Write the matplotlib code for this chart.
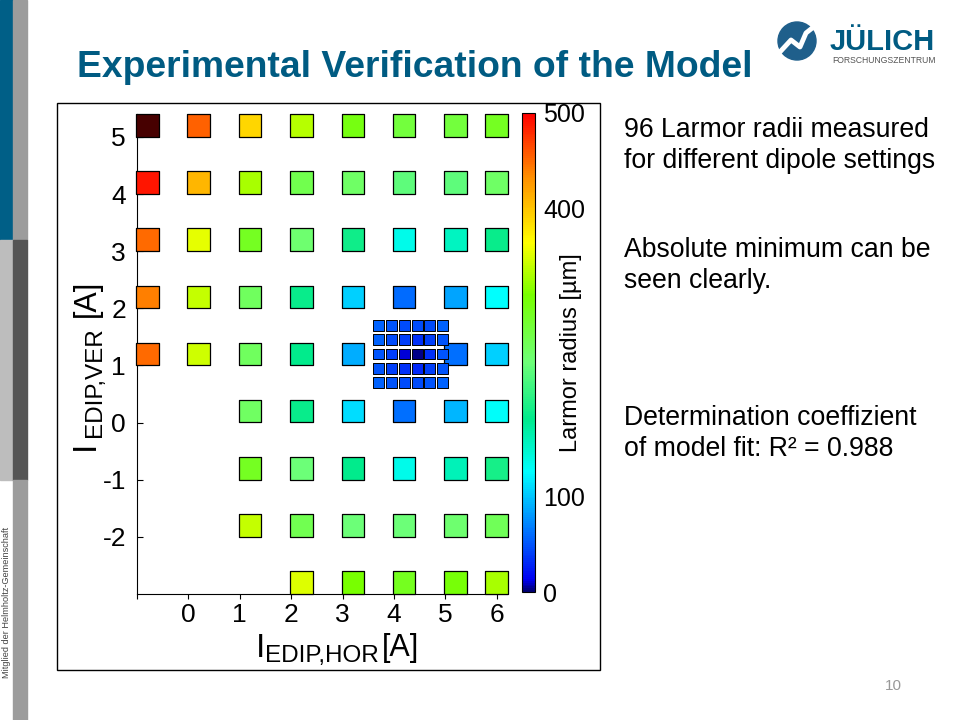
import numpy as np
import matplotlib
matplotlib.use('Agg')
import matplotlib.pyplot as plt
from matplotlib.colors import LinearSegmentedColormap, Normalize
from matplotlib.patches import Rectangle, Circle

plt.rcParams['font.family'] = ['Liberation Sans', 'DejaVu Sans']
plt.rcParams['axes.unicode_minus'] = False

# coarse scan: columns (I_EDIP,HOR) and rows (I_EDIP,VER), radius in um
x_cols = [-0.8, 0.2, 1.2, 2.2, 3.2, 4.2, 5.2, 6.0]
y_rows = [5.2, 4.2, 3.2, 2.2, 1.2, 0.2, -0.8, -1.8, -2.8]
nan = np.nan
radius_grid = [
    [560, 455, 390, 335, 300, 275, 275, 290],
    [490, 410, 330, 265, 250, 232, 232, 250],
    [450, 355, 290, 245, 188, 135, 155, 185],
    [440, 340, 255, 185, 105, 60, 85, 125],
    [450, 345, 255, 180, 88, nan, 62, 105],
    [nan, nan, 252, 185, 110, 62, 92, 128],
    [nan, nan, 290, 240, 180, 135, 160, 192],
    [nan, nan, 340, 262, 240, 240, 245, 258],
    [nan, nan, nan, 350, 310, 292, 305, 330],
]

# fine scan around the minimum
fine_x = [3.7, 3.95, 4.2, 4.45, 4.7, 4.95]
fine_y = [1.7, 1.45, 1.2, 0.95, 0.7]
fine_radius = [
    [55, 50, 45, 45, 45, 55],
    [55, 45, 40, 35, 40, 50],
    [50, 40, 10, 2, 35, 50],
    [50, 40, 35, 30, 40, 50],
    [55, 50, 45, 45, 50, 55],
]

cbar_ticks = [0, 100, 400, 500]

cmap = LinearSegmentedColormap.from_list('larmor', [
    (0.00, (0.0, 0.0, 0.45)),
    (0.025, (0.0, 0.0, 0.95)),
    (0.12, (0.0, 0.43, 1.0)),
    (0.25, (0.0, 1.0, 1.0)),
    (0.36, (0.0, 0.92, 0.55)),
    (0.48, (0.43, 1.0, 0.47)),
    (0.62, (0.47, 1.0, 0.0)),
    (0.73, (1.0, 1.0, 0.0)),
    (0.87, (1.0, 0.55, 0.0)),
    (1.00, (1.0, 0.0, 0.0)),
])
cmap.set_over((0.28, 0.0, 0.0))
norm = Normalize(0, 500)

fig = plt.figure(figsize=(9.6, 7.2), dpi=100)

# slide background in pixel coordinates
bg = fig.add_axes([0, 0, 1, 1], zorder=0)
bg.set_xlim(0, 960)
bg.set_ylim(720, 0)
bg.axis('off')

bg.add_patch(Rectangle((0, 0), 13, 240, color='#005f87'))
bg.add_patch(Rectangle((0, 240), 13, 240, color='#bdbdbd'))
bg.add_patch(Rectangle((13, 0), 14, 240, color='#9c9c9c'))
bg.add_patch(Rectangle((13, 240), 14, 240, color='#555555'))
bg.add_patch(Rectangle((13, 480), 14, 240, color='#9c9c9c'))
bg.text(7, 602, 'Mitglied der Helmholtz-Gemeinschaft', rotation=90, fontsize=6.6,
        color='#444444', ha='center', va='center')

bg.text(77, 77, 'Experimental Verification of the Model', fontsize=26.8,
        fontweight='bold', color='#005b82', va='baseline')

# logo
bg.add_patch(Circle((797, 41), 19, color='#1f5f8b'))
bg.plot([779, 791, 800, 806, 816], [53, 40, 47, 33, 25], color='white', lw=3.5)
bg.text(830, 50, 'JÜLICH', fontsize=21, fontweight='bold', color='#005b82', va='baseline')
bg.text(832, 63, 'FORSCHUNGSZENTRUM', fontsize=6.2, color='#555555', va='baseline')

bg.add_patch(Rectangle((57, 103), 543, 567, fill=False, lw=1, ec='black'))

notes = [
    (130, '96 Larmor radii measured'), (161, 'for different dipole settings'),
    (250, 'Absolute minimum can be'), (281, 'seen clearly.'),
    (418, 'Determination coeffizient'), (449, 'of model fit: R² = 0.988'),
]
for y, s in notes:
    bg.text(624, y, s, fontsize=19.2, va='center')

bg.text(893, 686, '10', fontsize=11, color='#999999', ha='center', va='center')

# axis labels
bg.text(256, 657, 'I', fontsize=24, va='baseline')
bg.text(265, 662, 'EDIP,HOR', fontsize=17.5, va='baseline')
bg.text(382, 656, '[A]', fontsize=22, va='baseline')
bg.text(94, 450, 'I', fontsize=24, rotation=90, rotation_mode='anchor',
        ha='left', va='baseline')
bg.text(101, 437, 'EDIP,VER', fontsize=17.5, rotation=90, rotation_mode='anchor',
        ha='left', va='baseline')
bg.text(95, 317, '[A]', fontsize=22, rotation=90, rotation_mode='anchor',
        ha='left', va='baseline')

# main plot
ax = fig.add_axes([137 / 960, 1 - 594 / 720, 370 / 960, 480 / 720], zorder=2)
ax.patch.set_alpha(0)
X, Y = np.meshgrid(x_cols, y_rows)
R = np.array(radius_grid, dtype=float)
ok = ~np.isnan(R)
sc = ax.scatter(X[ok], Y[ok], c=R[ok], cmap=cmap, norm=norm, marker='s', s=262,
                edgecolors='black', linewidths=0.9, clip_on=False, zorder=3)
FX, FY = np.meshgrid(fine_x, fine_y)
ax.scatter(FX.ravel(), FY.ravel(), c=np.array(fine_radius).ravel(), cmap=cmap, norm=norm,
           marker='s', s=62, edgecolors='black', linewidths=0.7, clip_on=False, zorder=4)

ax.set_xlim(-1, 6.2)
ax.set_ylim(-3, 5.4)
ax.spines['top'].set_visible(False)
ax.spines['right'].set_visible(False)
ax.set_xticks(range(-1, 7))
ax.set_xticklabels([''] + [str(i) for i in range(0, 7)])
ax.set_yticks(range(-2, 6))
ax.tick_params(axis='x', direction='out', length=3.5, pad=3, labelsize=19)
ax.tick_params(axis='y', direction='in', length=4, pad=8, labelsize=19)

cax = fig.add_axes([522 / 960, 1 - 592 / 720, 13 / 960, 479 / 720], zorder=2)
cb = fig.colorbar(sc, cax=cax, ticks=cbar_ticks)
cb.ax.tick_params(length=0, labelsize=18, pad=6)
cb.outline.set_linewidth(0.8)
bg.text(571, 353, 'Larmor radius [µm]', fontsize=17, rotation=90, ha='center', va='center')

fig.savefig('out.png', dpi=100)
